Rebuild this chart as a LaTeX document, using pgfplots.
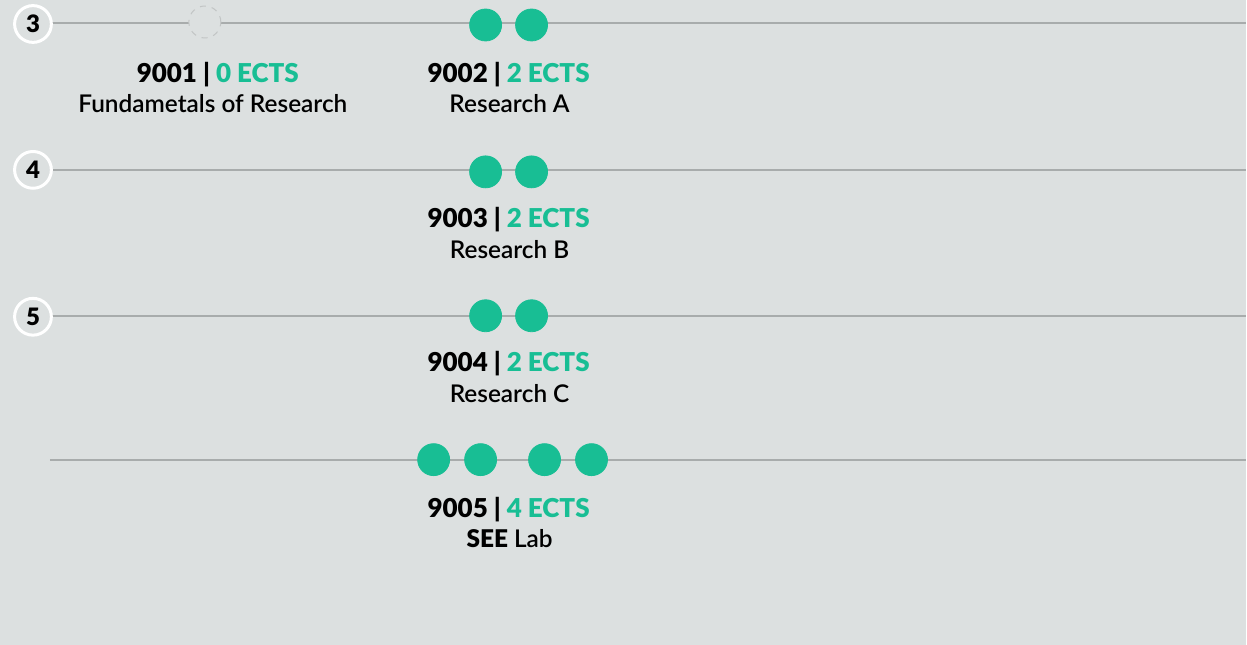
\documentclass[border=0pt]{standalone}
\usepackage{pgfplots}
\pgfplotsset{compat=1.18}
\usepackage{fontspec}
\setmainfont{Lato}
\newfontfamily\latosb{Lato Semibold}
\definecolor{bg}{RGB}{220,224,224}
\definecolor{ln}{RGB}{168,172,172}
\definecolor{gr}{RGB}{24,190,148}
\tikzset{lbl/.style={font=\fontsize{13}{15}\selectfont\latosb\bfseries, align=center, text=black, inner sep=0pt},
         lbb/.style={font=\fontsize{12.2}{15}\selectfont\latosb, align=center, text=black, inner sep=0pt}}
\begin{document}
\begin{tikzpicture}
\begin{axis}[
  scale only axis, width=623.5pt, height=322.5pt,
  xmin=0, xmax=1247, ymin=0, ymax=645, y dir=reverse,
  axis lines=none, ticks=none, clip=false,
]
\fill[bg] (axis cs:0,0) rectangle (axis cs:1247,645);
% row lines
\addplot[ln, line width=1pt] coordinates {(52,23) (1247,23)};
\addplot[ln, line width=1pt] coordinates {(52,170) (1247,170)};
\addplot[ln, line width=1pt] coordinates {(52,316) (1247,316)};
\addplot[ln, line width=1pt] coordinates {(50,460) (1247,460)};
% numbered circles
\addplot[only marks, mark=*, mark size=9.2pt, mark options={fill=bg, draw=white, line width=1.5pt},
  point meta=explicit symbolic, nodes near coords={\fontsize{12}{12}\selectfont\latosb\bfseries\pgfplotspointmeta}, nodes near coords align={center},
  every node near coord/.style={text=black, anchor=center}]
  coordinates {(33,24)[3] (33,170)[4] (33,317)[5]};
% empty dashed circle
\addplot[only marks, mark=*, mark size=8pt, mark options={fill=bg, draw=ln!70, line width=0.5pt, dashed}]
  coordinates {(205,22)};
% green dots
\addplot[only marks, mark=*, mark size=8pt, mark options={fill=gr, draw=gr}]
  coordinates {(486,25) (532,25) (486,172) (532,172) (486,316) (532,316)
               (434,460) (481,460) (545,460) (592,460)};
% labels
\node[lbl] at (axis cs:218,75) {9001 | \textcolor{gr}{0 ECTS}};
\node[lbb] at (axis cs:213,104) {Fundametals of Research};
\node[lbl] at (axis cs:509,75) {9002 | \textcolor{gr}{2 ECTS}};
\node[lbb] at (axis cs:510,104) {Research A};
\node[lbl] at (axis cs:509,220) {9003 | \textcolor{gr}{2 ECTS}};
\node[lbb] at (axis cs:510,250) {Research B};
\node[lbl] at (axis cs:509,364) {9004 | \textcolor{gr}{2 ECTS}};
\node[lbb] at (axis cs:510,394) {Research C};
\node[lbl] at (axis cs:509,510) {9005 | \textcolor{gr}{4 ECTS}};
\node[lbb] at (axis cs:510,539) {{\bfseries SEE} Lab};
\end{axis}
\end{tikzpicture}
\end{document}
